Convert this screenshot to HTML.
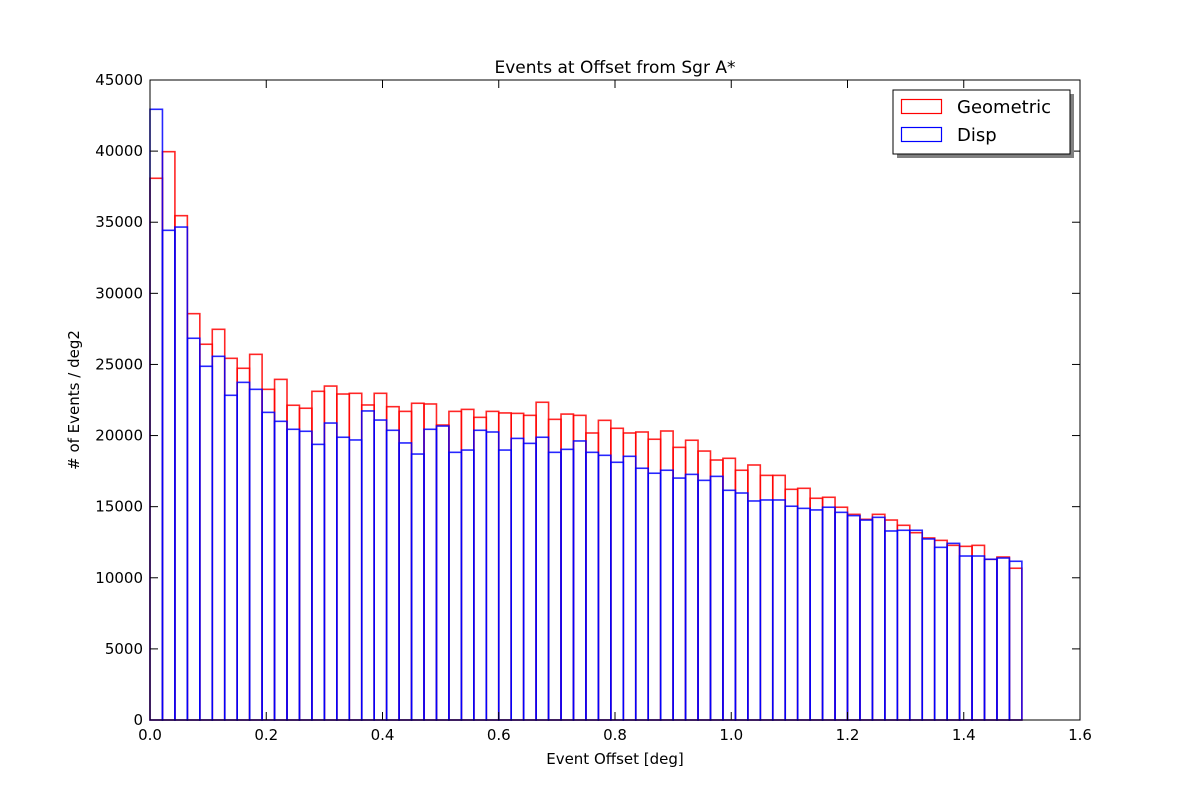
<!DOCTYPE html>
<html><head><meta charset="utf-8"><style>
body{margin:0;background:#fff}
svg text{font-family:"DejaVu Sans","Liberation Sans",sans-serif;fill:#000}
</style></head><body>
<svg id="chart" width="1200" height="800" xmlns="http://www.w3.org/2000/svg">
<rect x="0" y="0" width="1200" height="800" fill="#fff"/>
<g id="bars"></g>
<rect x="150" y="80" width="930" height="640" fill="none" stroke="#000" stroke-width="1"/>
<g id="axes"></g>
<text x="615" y="73" font-size="17" text-anchor="middle">Events at Offset from Sgr A*</text>
<text x="615" y="764" font-size="15" text-anchor="middle">Event Offset [deg]</text>
<text transform="translate(79,400) rotate(-90)" font-size="15" text-anchor="middle"># of Events / deg2</text>
<g>
<rect x="897" y="94" width="177" height="64" style="fill:#808080"/>
<rect x="893" y="90" width="177" height="64" style="fill:#fff;stroke:#000"/>
<g>
<rect x="901.5" y="99.5" width="40" height="14" style="fill:none;stroke:#ff0000;stroke-width:1.2"/>
<text x="957" y="113" font-size="18">Geometric</text></g>
<g>
<rect x="901.5" y="127.5" width="40" height="14" style="fill:none;stroke:#0000ff;stroke-width:1.2"/>
<text x="957" y="141" font-size="18">Disp</text></g>
</g>
</svg>
<script>
const binStart = 0, binEnd = 1.5;
const geometric = [38090,39960,35460,28570,26420,27470,25430,24730,25710,23250,23950,22130,21920,23110,23480,22920,22970,22150,22970,22030,21700,22270,22220,
20740,21700,21840,21280,21700,21590,21560,21420,22340,21140,21510,21420,20180,21070,20510,20180,20250,19740,20320,19170,19670,18910,18280,18400,
17560,17930,17200,17200,16220,16290,15590,15660,14960,14460,14110,14460,14060,13690,13170,12800,12630,12280,12210,12280,11300,11460,10670];
const disp = [42940,34430,34660,26840,24870,25570,22830,23740,23250,21630,21000,20440,20300,19380,20880,19880,19690,21730,21090,20370,19480,18700,20440,
20670,18820,18980,20370,20250,18980,19800,19450,19880,18820,19030,19620,18820,18610,18120,18540,17700,17350,17560,17010,17270,16850,17130,16150,
15960,15400,15470,15470,15030,14880,14770,14960,14600,14370,14060,14250,13290,13340,13340,12730,12140,12420,11530,11530,11300,11390,11160];
const xTicks = [0.0,0.2,0.4,0.6,0.8,1.0,1.2,1.4,1.6];
const yTicks = [0,5000,10000,15000,20000,25000,30000,35000,40000,45000];

const NS='http://www.w3.org/2000/svg';
const X0=150,X1=1080,Y0=720,Y1=80;
function xs(v){return X0+(v-0)/(1.6-0)*(X1-X0);}
function ys(v){return Y0-(v-0)/(45000-0)*(Y0-Y1);}
const bars=document.getElementById('bars');
function drawSeries(vals,color,name){
  const w=(binEnd-binStart)/vals.length;
  vals.forEach((v,i)=>{
    const r=document.createElementNS(NS,'rect');
    const xa=xs(binStart+i*w), xb=xs(binStart+(i+1)*w);
    r.setAttribute('x',xa);r.setAttribute('y',ys(v));
    r.setAttribute('width',xb-xa);r.setAttribute('height',Y0-ys(v));
    r.setAttribute('style','fill:none;stroke:'+color+';stroke-width:1.6;stroke-opacity:0.85');
    
    
    bars.appendChild(r);
  });
}
drawSeries(geometric,'#ff0000','geometric');
drawSeries(disp,'#0000ff','disp');
const axes=document.getElementById('axes');
function line(x1,y1,x2,y2){const l=document.createElementNS(NS,'line');
  l.setAttribute('x1',x1);l.setAttribute('y1',y1);l.setAttribute('x2',x2);l.setAttribute('y2',y2);
  l.setAttribute('stroke','#000');
  
  
  axes.appendChild(l);}
function txt(x,y,s,anchor,name){const t=document.createElementNS(NS,'text');
  t.setAttribute('x',x);t.setAttribute('y',y);t.setAttribute('font-size','15');t.setAttribute('text-anchor',anchor);
  t.textContent=s;
  
  
  axes.appendChild(t);}
xTicks.forEach(v=>{const x=xs(v);line(x,Y0,x,Y0-8);line(x,Y1,x,Y1+8);txt(x,740,v.toFixed(1),'middle','x-tick-label');});
yTicks.forEach(v=>{const y=ys(v);line(X0,y,X0+8,y);line(X1,y,X1-8,y);txt(143,y+5,String(v),'end','y-tick-label');});
</script>
</body></html>
